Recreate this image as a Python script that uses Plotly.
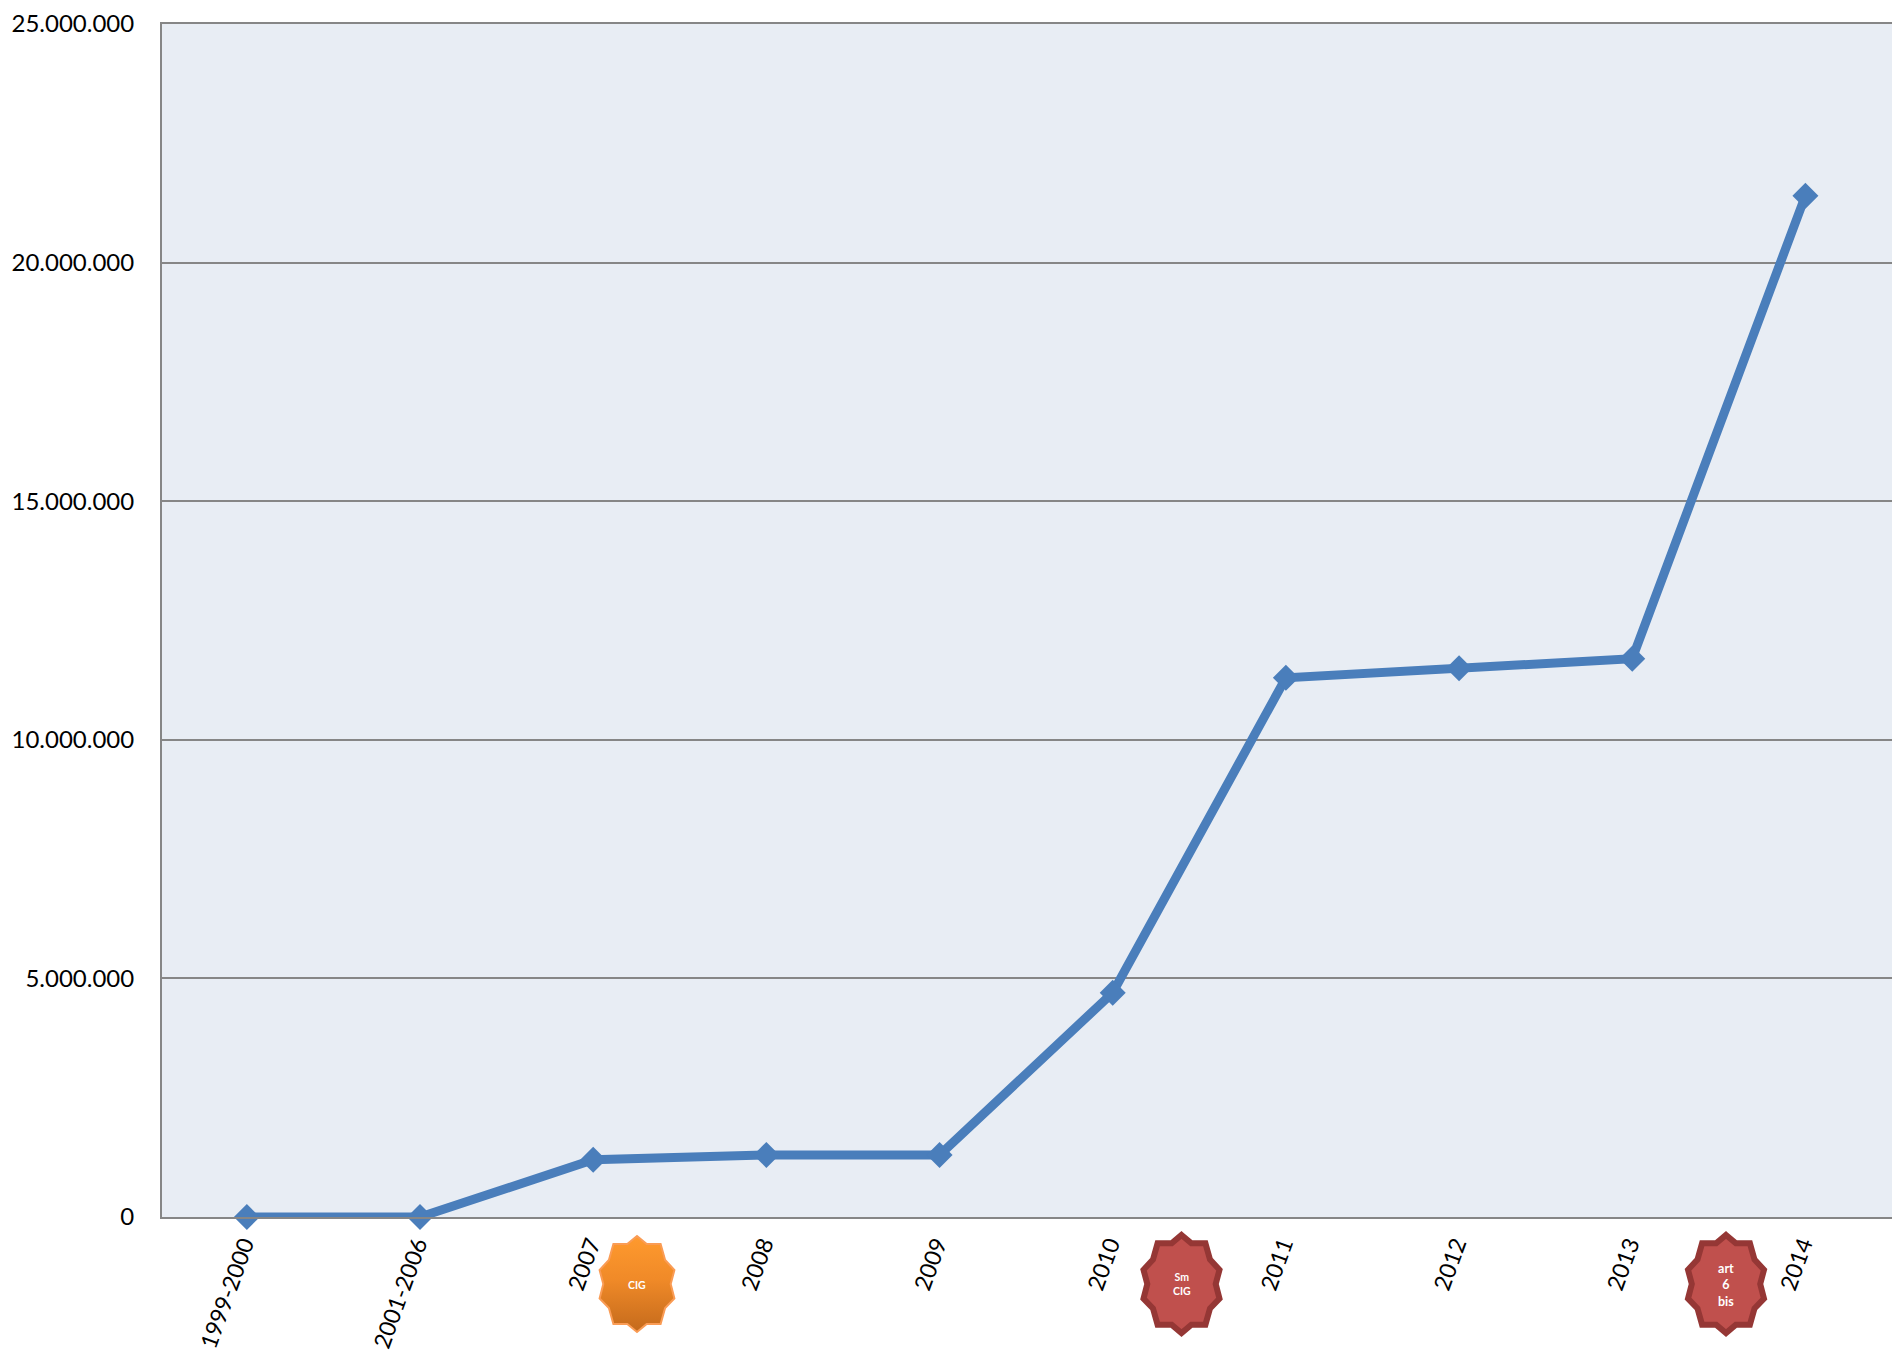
import base64
import plotly.graph_objects as go

categories = ["1999-2000", "2001-2006", "2007", "2008", "2009", "2010", "2011", "2012", "2013", "2014"]
values = [0, 0, 1200000, 1300000, 1300000, 4700000, 11300000, 11500000, 11700000, 21400000]
y_ticks = [0, 5000000, 10000000, 15000000, 20000000, 25000000]
y_labels = ["0", "5.000.000", "10.000.000", "15.000.000", "20.000.000", "25.000.000"]

W, H = 1892, 1352
L, T, B = 162, 24, 135
PW, PH = W - L, H - T - B
FONT = "Lato, Carlito, Calibri, sans-serif"

# Decorative seal badges: unit-shape outline, scaled to pixel size then plot-relative paper coords
SEAL = [(0, -1), (.26, -.83), (.63, -.83), (.75, -.5), (1, -.29), (.9, 0), (1, .3), (.75, .5), (.63, .83), (.26, .83),
        (0, 1), (-.26, .83), (-.63, .83), (-.75, .5), (-1, .3), (-.9, 0), (-1, -.29), (-.75, -.5), (-.63, -.83), (-.26, -.83)]


def px(x):
    return (x - L) / PW


def py(y):
    return 1 - (y - T) / PH


def seal_path(cx, cy, hw, hh):
    pts = [(px(cx + x * hw), py(cy + y * hh)) for x, y in SEAL]
    return "M " + " L ".join(f"{x:.5f},{y:.5f}" for x, y in pts) + " Z"


def seal_svg(hw, hh):
    pts = " ".join(f"{(x * .96 + 1) * hw:.1f},{(y * .97 + 1) * hh:.1f}" for x, y in SEAL)
    svg = (f'<svg xmlns="http://www.w3.org/2000/svg" width="{2*hw}" height="{2*hh}" viewBox="0 0 {2*hw} {2*hh}">'
           '<defs><linearGradient id="g" x1="0" y1="0" x2="0" y2="1">'
           '<stop offset="0" stop-color="#ff9a2e"/><stop offset="0.45" stop-color="#f08a28"/><stop offset="1" stop-color="#c46a1c"/>'
           '</linearGradient></defs>'
           f'<polygon points="{pts}" fill="url(#g)" stroke="#fa9c55" stroke-width="2"/></svg>')
    return "data:image/svg+xml;base64," + base64.b64encode(svg.encode()).decode()


fig = go.Figure(go.Scatter(
    x=categories, y=values, mode="lines+markers", cliponaxis=False,
    line=dict(color="#4a7ebb", width=9),
    marker=dict(symbol="diamond", size=20, color="#4a7ebb"),
    showlegend=False, hoverinfo="skip",
))

shapes = [
    dict(type="path", xref="paper", yref="paper", layer="above", path=seal_path(cx, 1284, 38, 49),
         fillcolor="#c0504d", line=dict(color="#953735", width=6))
    for cx in (1181.5, 1726)
]

images = [dict(source=seal_svg(39, 49.5), xref="paper", yref="paper", x=px(637 - 39), y=py(1284 - 49.5),
               sizex=78 / PW, sizey=99 / PH, sizing="stretch", xanchor="left", yanchor="top", layer="above")]


def note(text, cx, cy, size):
    return dict(text=text, xref="paper", yref="paper", x=px(cx), y=py(cy), showarrow=False,
                font=dict(family=FONT, size=size, color="#ffffff", weight=700), align="center",
                xanchor="center", yanchor="middle")


annotations = [note("CIG", 637, 1284.5, 10.5), note("Sm<br>CIG", 1181.5, 1284, 10.5),
               note("art<br>6<br>bis", 1726, 1284.5, 12.5)]

fig.update_layout(
    width=W, height=H, autosize=False,
    margin=dict(l=L, r=0, t=T, b=B, pad=0),
    paper_bgcolor="#ffffff", plot_bgcolor="#e8edf4",
    font=dict(family=FONT, size=24, color="#000000"),
    shapes=shapes, images=images, annotations=annotations,
    xaxis=dict(type="category", categoryorder="array", categoryarray=categories, range=[-0.49, 9.5],
               tickangle=-70, ticks="", showgrid=False, zeroline=False, automargin=False,
               showline=True, mirror=True, linecolor="#868686", linewidth=2,
               tickfont=dict(family=FONT, size=23, color="#000000"), ticklabelstandoff=3, ticklabelshift=-3),
    yaxis=dict(range=[0, 25000000], tickmode="array", tickvals=y_ticks, ticktext=y_labels, automargin=False,
               ticks="", showgrid=True, gridcolor="#868686", gridwidth=2, zeroline=False,
               showline=True, linecolor="#868686", linewidth=2,
               tickfont=dict(family=FONT, size=24, color="#000000"), ticklabelstandoff=21),
)

fig.write_html("out.html", config=dict(displayModeBar=False),
               post_script="document.body.style.margin='0';document.documentElement.style.overflow='hidden';")
